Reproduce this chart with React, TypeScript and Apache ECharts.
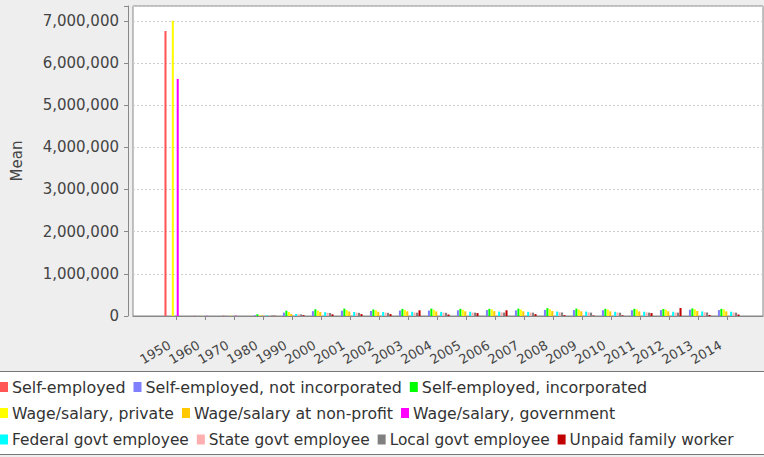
import React, { useEffect, useRef } from "react";
import * as echarts from "echarts";

const years = ["1950","1960","1970","1980","1990","2000","2001","2002","2003","2004","2005","2006","2007","2008","2009","2010","2011","2012","2013","2014"];

const seriesNames = [
  "Self-employed",
  "Self-employed, not incorporated",
  "Self-employed, incorporated",
  "Wage/salary, private",
  "Wage/salary at non-profit",
  "Wage/salary, government",
  "Federal govt employee",
  "State govt employee",
  "Local govt employee",
  "Unpaid family worker",
];

const seriesColors = ["#FF5555", "#8080FF", "#00FF00", "#FFFF00", "#FFC800", "#FF00FF", "#00FFFF", "#FFAFAF", "#808080", "#C00000"];

const selfEmployed = [6760000, 6000, 9000, null, null, null, null, null, null, null, null, null, null, null, null, null, null, null, null, null];
const seNotInc = [null, null, null, 18000, 80000, 115000, 125000, 120000, 130000, 128000, 135000, 140000, 135000, 145000, 140000, 138000, 137000, 140000, 150000, 140000];
const seInc = [null, null, null, 42000, 125000, 160000, 175000, 155000, 168000, 175000, 170000, 170000, 175000, 185000, 175000, 170000, 170000, 165000, 180000, 170000];
const wagePrivate = [7000000, 5000, 8000, 15000, 95000, 128000, 140000, 135000, 145000, 148000, 150000, 155000, 152000, 162000, 155000, 152000, 155000, 152000, 160000, 155000];
const nonProfit = [null, null, null, 12000, 50000, 95000, 105000, 100000, 110000, 108000, 112000, 115000, 112000, 118000, 112000, 112000, 110000, 112000, 118000, 110000];
const wageGovt = [5620000, 5000, 8000, null, null, null, null, null, null, null, null, null, null, null, null, null, null, null, null, null];
const federal = [null, null, null, 14000, 48000, 90000, 95000, 95000, 100000, 98000, 100000, 105000, 100000, 105000, 105000, 100000, 102000, 100000, 108000, 102000];
const stateGovt = [null, null, null, 12000, 40000, 75000, 80000, 78000, 82000, 80000, 82000, 85000, 82000, 88000, 85000, 82000, 85000, 82000, 88000, 85000];
const localGovt = [null, null, null, 12000, 38000, 72000, 75000, 75000, 78000, 76000, 80000, 82000, 80000, 84000, 80000, 78000, 80000, 80000, 84000, 80000];
const unpaid = [null, null, null, 8000, 20000, 40000, 45000, 45000, 135000, 35000, 70000, 135000, 45000, 20000, 12000, 15000, 70000, 190000, 25000, 35000];

const seriesValues = [selfEmployed, seNotInc, seInc, wagePrivate, nonProfit, wageGovt, federal, stateGovt, localGovt, unpaid];

const legendRows = [
  [0, 1, 2],
  [3, 4, 5],
  [6, 7, 8, 9],
];
const legendTops = [379, 405, 432];
const legendFontSizes = [15.9, 15.7, 15.4];

const FONT = "DejaVu Sans";

export default function App() {
  const ref = useRef<HTMLDivElement>(null);
  useEffect(() => {
    if (!ref.current) return;
    const chart = echarts.init(ref.current, null, { renderer: "svg" });
    const yMax = 7350000;
    const option: any = {
      animation: false,
      backgroundColor: "#EEEEEE",
      textStyle: { fontFamily: FONT },
      grid: [
        { left: 162, right: 22, top: 6, bottom: 141, containLabel: false, outerBoundsMode: "none" },
        { left: 133, right: 1, top: 6, bottom: 141, containLabel: false, outerBoundsMode: "none", show: true, backgroundColor: "#FFFFFF", borderColor: "#888888", borderWidth: 1, z: 0 },
      ],
      xAxis: [
        {
          type: "category",
          gridIndex: 0,
          data: years,
          offset: 5,
          axisLine: { show: false },
          axisTick: { show: true, alignWithLabel: true, length: 4, lineStyle: { color: "#888888" } },
          axisLabel: { interval: 0, rotate: 30, fontSize: 13, color: "#444444", margin: 19, padding: [0, 8, 0, 0], fontFamily: FONT },
        },
        {
          type: "value",
          gridIndex: 1,
          offset: 5,
          min: 0,
          max: 1,
          axisLine: { show: true, lineStyle: { color: "#888888" } },
          axisTick: { show: false },
          axisLabel: { show: false },
          splitLine: { show: false },
        },
      ],
      yAxis: [
        {
          type: "value",
          gridIndex: 0,
          min: 0,
          max: yMax,
          interval: 1000000,
          offset: 34,
          name: "Mean",
          nameLocation: "middle",
          nameGap: 104,
          nameTextStyle: { fontSize: 15, color: "#444444", fontFamily: FONT },
          axisLine: { show: true, lineStyle: { color: "#888888" } },
          axisTick: { show: true, length: 4, lineStyle: { color: "#888888" } },
          axisLabel: {
            fontSize: 15,
            color: "#444444",
            margin: 9,
            fontFamily: FONT,
            formatter: (v: number) => (v % 1000000 === 0 ? v.toLocaleString("en-US") : ""),
          },
          splitLine: { show: false },
        },
        {
          type: "value",
          gridIndex: 1,
          min: 0,
          max: yMax,
          interval: 1000000,
          axisLine: { show: false },
          axisTick: { show: false },
          axisLabel: { show: false },
          splitLine: { show: true, lineStyle: { color: "#CCCCCC", type: [2, 2], width: 1 } },
        },
      ],
      legend: legendRows.map((row, i) => ({
        data: row.map((k) => seriesNames[k]),
        left: 0,
        top: legendTops[i],
        padding: 0,
        icon: "rect",
        itemWidth: 8,
        itemHeight: 10,
        itemGap: 8,
        textStyle: { fontSize: legendFontSizes[i], color: "#333333", fontFamily: FONT, padding: [0, 0, 0, -1] },
        z: 10,
      })),
      graphic: [
        {
          type: "rect",
          z: -1,
          shape: { x: -1, y: 371.5, width: 766, height: 83 },
          style: { fill: "#FFFFFF", stroke: "#777777", lineWidth: 1 },
        },
      ],
      series: seriesNames.map((name, i) => ({
        name,
        type: "bar",
        xAxisIndex: 0,
        yAxisIndex: 0,
        data: seriesValues[i],
        barGap: "20%",
        barCategoryGap: "17%",
        itemStyle: { color: seriesColors[i] },
        z: 5,
      })),
    };
    chart.setOption(option);
    return () => chart.dispose();
  }, []);
  return <div ref={ref} style={{ position: "fixed", left: 0, top: 0, width: 764, height: 457 }} />;
}
